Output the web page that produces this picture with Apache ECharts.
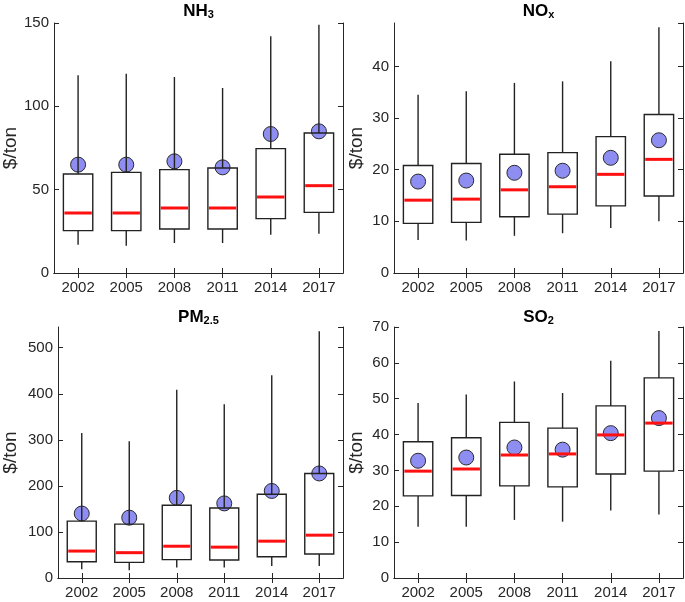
<!DOCTYPE html>
<html>
<head>
<meta charset="utf-8">
<script src="https://cdn.jsdelivr.net/npm/echarts@6/dist/echarts.min.js"></script>
<style>
html,body{margin:0;padding:0;background:#fff;}
#chart{width:685px;height:602px;}
</style>
</head>
<body>
<div id="chart"></div>
<script>
const years = ['2002', '2005', '2008', '2011', '2014', '2017'];

// NH3 ($/ton)
const nh3Low = [17, 16.4, 18, 18, 23, 23.6];
const nh3Q1 = [25.4, 25.4, 26.4, 26.4, 32.6, 36.4];
const nh3Med = [36, 36, 39, 39, 45.6, 52.4];
const nh3Q3 = [59.4, 60.4, 62, 63, 74.6, 84];
const nh3High = [118.6, 119.6, 117.6, 111, 142, 149];
const nh3Mean = [65, 65, 67, 63.4, 83.4, 85];

// NOx ($/ton)
const noxLow = [6.4, 6.3, 7.2, 7.7, 8.7, 10.0];
const noxQ1 = [9.6, 9.8, 10.9, 11.4, 13.0, 14.9];
const noxMed = [14.1, 14.3, 16.1, 16.7, 19.1, 22.0];
const noxQ3 = [20.8, 21.2, 23.0, 23.3, 26.4, 30.7];
const noxHigh = [34.5, 35.2, 36.8, 37.1, 41.0, 47.6];
const noxMean = [17.7, 17.9, 19.4, 19.8, 22.3, 25.7];

// PM2.5 ($/ton)
const pmLow = [19, 17, 23, 23, 26, 26];
const pmQ1 = [35.4, 34, 40, 39, 46, 52];
const pmMed = [58.5, 55, 69, 67, 80, 93];
const pmQ3 = [123.5, 117, 158, 152, 182, 227];
const pmHigh = [315, 297, 409, 377, 440, 536];
const pmMean = [140, 131, 174, 162, 189, 227];

// SO2 ($/ton)
const so2Low = [14.3, 14.3, 16.2, 15.7, 18.8, 17.7];
const so2Q1 = [22.9, 23.0, 25.7, 25.4, 29.0, 29.8];
const so2Med = [29.8, 30.4, 34.3, 34.6, 39.9, 43.2];
const so2Q3 = [38.0, 39.1, 43.4, 41.8, 48.0, 55.8];
const so2High = [48.8, 51.2, 54.8, 51.6, 60.6, 68.9];
const so2Mean = [32.7, 33.6, 36.4, 35.8, 40.4, 44.6];

// y-axis settings per panel
const yMax = [150, 48.4, 545, 70];
const yInterval = [50, 10, 100, 10];

const panels = [
  {name: 'NH', sub: '3', low: nh3Low, q1: nh3Q1, med: nh3Med, q3: nh3Q3, high: nh3High, mean: nh3Mean},
  {name: 'NO', sub: 'x', low: noxLow, q1: noxQ1, med: noxMed, q3: noxQ3, high: noxHigh, mean: noxMean},
  {name: 'PM', sub: '2.5', low: pmLow, q1: pmQ1, med: pmMed, q3: pmQ3, high: pmHigh, mean: pmMean},
  {name: 'SO', sub: '2', low: so2Low, q1: so2Q1, med: so2Med, q3: so2Q3, high: so2High, mean: so2Mean}
];

const FONT = 'Liberation Sans, Arial, Helvetica, sans-serif';
const AX = '#262626';
const grids = [
  {left: 54, top: 23, width: 289, height: 250},
  {left: 394, top: 23, width: 289, height: 250},
  {left: 54, top: 327, width: 289, height: 251},
  {left: 394, top: 327, width: 289, height: 251}
];
const titleTops = [0, 0, 306, 306];
const nameGaps = [33, 28, 38, 28];

const option = {
  backgroundColor: '#fff',
  animation: false,
  title: [],
  grid: [],
  xAxis: [],
  yAxis: [],
  series: []
};

panels.forEach((p, i) => {
  const g = grids[i];
  option.grid.push({left: g.left, top: g.top, width: g.width, height: g.height, containLabel: false});
  option.title.push({
    text: '{b|' + p.name + '}{s|' + p.sub + '}',
    left: g.left + g.width / 2,
    top: titleTops[i],
    padding: 0,
    textAlign: 'center',
    textStyle: {
      rich: {
        b: {fontFamily: FONT, fontWeight: 'bold', fontSize: 17, color: '#000', verticalAlign: 'bottom', lineHeight: 20},
        s: {fontFamily: FONT, fontWeight: 'bold', fontSize: 11, color: '#000', verticalAlign: 'bottom', lineHeight: 17}
      }
    }
  });
  // bottom category axis
  option.xAxis.push({
    type: 'category', gridIndex: i, data: years, boundaryGap: true,
    axisLine: {lineStyle: {color: AX, width: 1}},
    axisTick: {show: true, inside: true, alignWithLabel: true, length: 5, lineStyle: {color: AX}},
    axisLabel: {fontFamily: FONT, fontSize: 15, color: AX, margin: 7},
    splitLine: {show: false}
  });
  // top mirror axis
  option.xAxis.push({
    type: 'category', gridIndex: i, data: years, boundaryGap: true, position: 'top',
    axisLine: {lineStyle: {color: AX, width: 1}},
    axisTick: {show: true, inside: true, alignWithLabel: true, length: 5, lineStyle: {color: AX}},
    axisLabel: {show: false},
    splitLine: {show: false}
  });
  option.yAxis.push({
    type: 'value', gridIndex: i, min: 0, max: yMax[i], interval: yInterval[i],
    name: '$/ton', nameLocation: 'middle', nameGap: nameGaps[i], nameRotate: 90,
    nameTextStyle: {fontFamily: FONT, fontSize: 19, color: AX},
    axisLine: {show: true, lineStyle: {color: AX, width: 1}},
    axisTick: {show: true, inside: true, length: 5, lineStyle: {color: AX}},
    axisLabel: {fontFamily: FONT, fontSize: 15, color: AX, margin: 5, showMaxLabel: yMax[i] % yInterval[i] === 0},
    splitLine: {show: false}
  });
  option.yAxis.push({
    type: 'value', gridIndex: i, min: 0, max: yMax[i], interval: yInterval[i], position: 'right',
    axisLine: {show: true, lineStyle: {color: AX, width: 1}},
    axisTick: {show: true, inside: true, length: 5, lineStyle: {color: AX}},
    axisLabel: {show: false},
    splitLine: {show: false}
  });

  const boxData = years.map((y, k) => [k, p.low[k], p.q1[k], p.med[k], p.q3[k], p.high[k]]);
  option.series.push({
    type: 'scatter', xAxisIndex: 2 * i, yAxisIndex: 2 * i,
    data: years.map((y, k) => [k, p.mean[k]]),
    symbol: 'circle', symbolSize: 15, z: 2,
    itemStyle: {color: '#8e8ef2', borderColor: '#2a2a2a', borderWidth: 1, opacity: 1}
  });
  option.series.push({
    type: 'custom', xAxisIndex: 2 * i, yAxisIndex: 2 * i, z: 3,
    data: boxData,
    encode: {x: 0, y: [1, 2, 3, 4, 5]},
    renderItem: function (params, api) {
      const x = api.value(0);
      const pl = api.coord([x, api.value(1)]);
      const p1 = api.coord([x, api.value(2)]);
      const pm = api.coord([x, api.value(3)]);
      const p3 = api.coord([x, api.value(4)]);
      const ph = api.coord([x, api.value(5)]);
      const w = api.size([1, 0])[0] * 0.61;
      const cx = pl[0];
      const ls = {stroke: '#222', lineWidth: 1.4, fill: null};
      return {
        type: 'group',
        children: [
          {type: 'line', shape: {x1: cx, y1: pl[1], x2: cx, y2: p1[1]}, style: ls},
          {type: 'line', shape: {x1: cx, y1: p3[1], x2: cx, y2: ph[1]}, style: ls},
          {type: 'rect', shape: {x: cx - w / 2, y: p3[1], width: w, height: p1[1] - p3[1]},
            style: {stroke: '#222', lineWidth: 1.4, fill: 'rgba(255,255,255,0)'}},
          {type: 'line', shape: {x1: cx - w / 2 + 1, y1: pm[1], x2: cx + w / 2 - 1, y2: pm[1]},
            style: {stroke: '#ff1010', lineWidth: 3}}
        ]
      };
    }
  });
});

const chart = echarts.init(document.getElementById('chart'), null, {renderer: 'canvas'});
chart.setOption(option);
</script>
</body>
</html>
